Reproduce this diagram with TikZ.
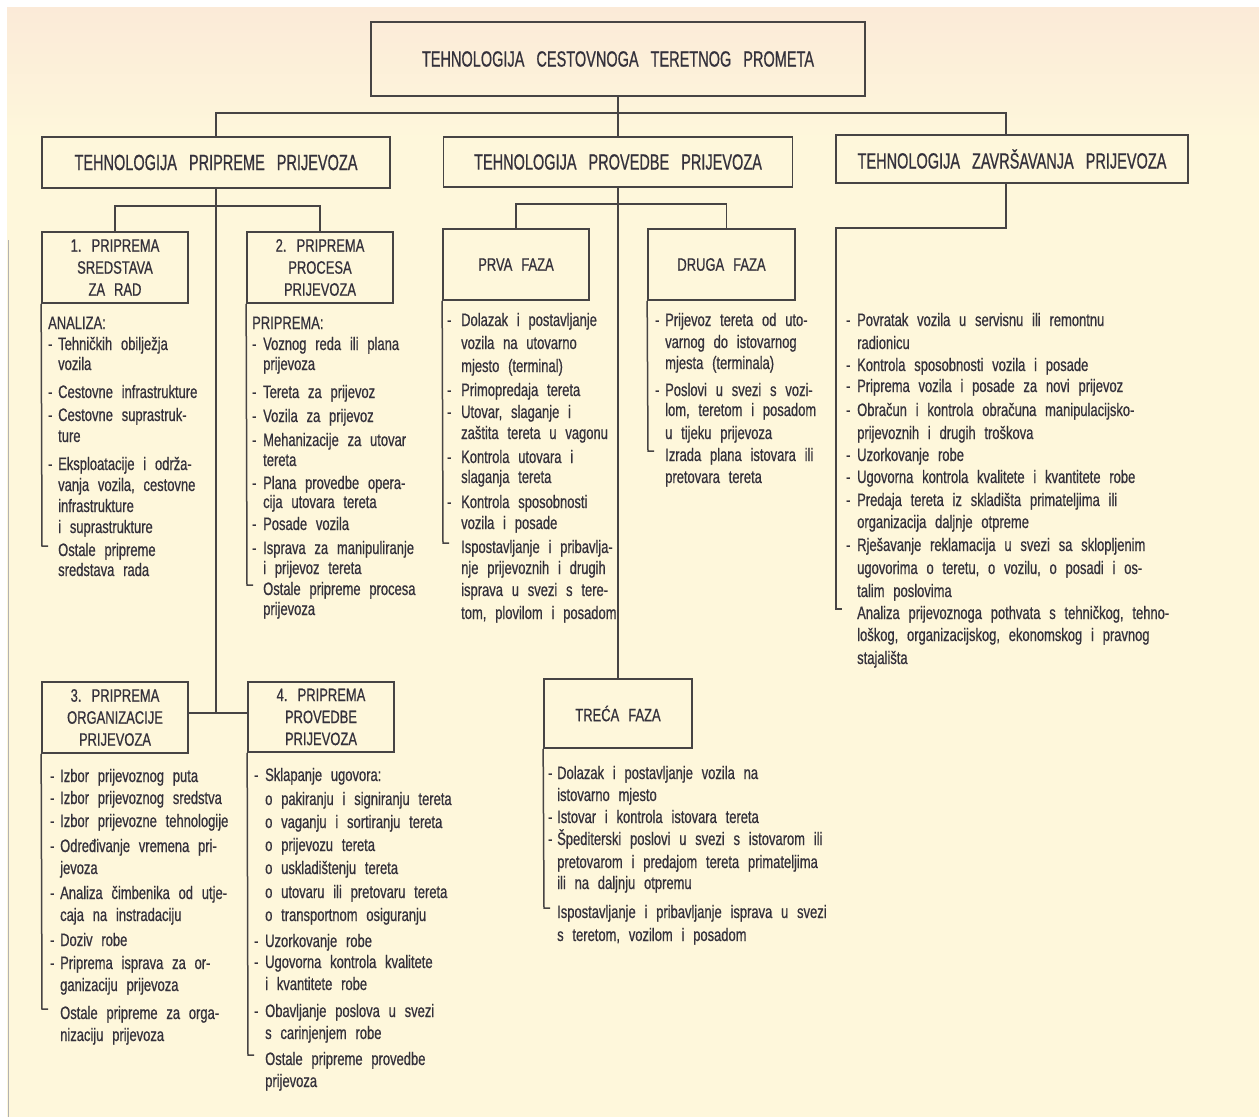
\documentclass[tikz,border=0pt]{standalone}
\usepackage{fontspec}
\setmainfont{Liberation Sans}[FakeStretch=0.72,FakeBold=0.6]
\newfontfamily\headfam{Liberation Sans}[FakeStretch=0.66,FakeBold=0.7]
\definecolor{bg}{HTML}{FEF7DB}
\definecolor{bgtop}{HTML}{FBEAD8}
\definecolor{ink}{HTML}{34313B}
\definecolor{linec}{HTML}{474444}
\newlength{\dw}
\newcommand{\dsh}{\makebox[\dw][l]{-}}
\newcommand{\ind}{\makebox[\dw]{}}
\newcommand{\bodyfont}{\fontsize{18pt}{22pt}\selectfont}
\newcommand{\headfont}{\headfam\fontsize{22pt}{24pt}\selectfont}
\newcommand{\listfont}{\fontsize{18pt}{20pt}\selectfont}
\begin{document}
\begin{tikzpicture}[x=1pt,y=-1pt,
  box/.style={draw=linec, line width=1.7pt, inner sep=0pt, align=center, text=ink,
     font=\bodyfont, execute at begin node={\spaceskip=9pt\relax}},
  head/.style={box, font=\headfont, execute at begin node={\spaceskip=12pt\relax}},
  conn/.style={draw=linec, line width=1.5pt},
  ln/.style={anchor=base west, inner sep=0pt, text=ink, yshift=-6pt,
     font=\listfont, execute at begin node={\spaceskip=8.8pt\relax}}]
\useasboundingbox (0,0) rectangle (1259,1117);
\fill[white] (0,0) rectangle (1259,1117);
\shade[top color=bgtop, bottom color=bg] (7,7) rectangle (1259,140);
\fill[bg] (7,140) rectangle (1259,1117);
\draw[gray!60, line width=1pt] (8,240) -- (8,1117);

% boxes
\node[head, minimum width=494pt, minimum height=74pt] (top) at (618,59) {TEHNOLOGIJA CESTOVNOGA TERETNOG PROMETA};
\node[head, minimum width=348pt, minimum height=51pt] (A) at (216,162.5) {TEHNOLOGIJA PRIPREME PRIJEVOZA};
\node[head, minimum width=349pt, minimum height=50pt] (B) at (618,162) {TEHNOLOGIJA PROVEDBE PRIJEVOZA};
\node[head, minimum width=352pt, minimum height=48pt] (C) at (1012,159) {TEHNOLOGIJA ZAVRŠAVANJA PRIJEVOZA};
\node[box, minimum width=146pt, minimum height=71pt] (b1) at (115,267.5) {1. PRIPREMA\\SREDSTAVA\\ZA RAD};
\node[box, minimum width=146pt, minimum height=71pt] (b2) at (320,267.5) {2. PRIPREMA\\PROCESA\\PRIJEVOZA};
\node[box, minimum width=146pt, minimum height=71pt] (prva) at (516,264.5) {PRVA FAZA};
\node[box, minimum width=147pt, minimum height=71pt] (druga) at (721.5,264.5) {DRUGA FAZA};
\node[box, minimum width=148pt, minimum height=69pt] (treca) at (618,713.5) {TREĆA FAZA};
\node[box, minimum width=146pt, minimum height=71pt] (b3) at (115,717.5) {3. PRIPREMA\\ORGANIZACIJE\\PRIJEVOZA};
\node[box, minimum width=146pt, minimum height=70pt] (b4) at (321,717) {4. PRIPREMA\\PROVEDBE\\PRIJEVOZA};

% connectors
\coordinate (bus) at (0,113);
\coordinate (jn) at (0,713);
\draw[conn] (top.south) -- (top.south |- bus);
\draw[conn] (A.north) |- ([xshift=-6pt]C.north |- bus) -- ([xshift=-6pt]C.north);
\draw[conn] (B.north) -- (B.north |- bus);
\draw[conn] (A.south) -- (A.south |- jn);
\draw[conn] (b3.east |- jn) -- (b4.west |- jn);
\draw[conn] (b1.north) -- ++(0,-25) -| (b2.north);
\draw[conn] (B.south) -- (treca.north);
\draw[conn] (prva.north) -- ++(0,-24) -| ([xshift=5pt]druga.north);
\coordinate (hC) at (836,609);
\draw[conn] ([xshift=-6pt]C.south) -- ++(0,44) -| (hC) -- ++(6,0);

% list lines with hooks
\coordinate (h1) at (42,546);
\coordinate (h2) at (247,585);
\coordinate (hp) at (443,543);
\coordinate (hd) at (648,451);
\coordinate (ht) at (544,908);
\coordinate (h3) at (42,1009);
\coordinate (h4) at (248,1055);
\draw[conn] (b1.south west) -- (h1) -- ++(6,0);
\draw[conn] (b2.south west) -- (h2) -- ++(6,0);
\draw[conn] (prva.south west) -- (hp) -- ++(6,0);
\draw[conn] (druga.south west) -- (hd) -- ++(6,0);
\draw[conn] (treca.south west) -- (ht) -- ++(6,0);
\draw[conn] (b3.south west) -- (h3) -- ++(6,0);
\draw[conn] (b4.south west) -- (h4) -- ++(6,0);

% list 1
\setlength{\dw}{10pt}
\foreach \y/\t [count=\i] in {323/{ANALIZA:},344/{\dsh Tehničkih obilježja},364/{\ind vozila},
  392/{\dsh Cestovne infrastrukture},415/{\dsh Cestovne suprastruk-},436/{\ind ture},
  464/{\dsh Eksploatacije i održa-},485/{\ind vanja vozila, cestovne},506/{\ind infrastrukture},
  527/{\ind i suprastrukture},550/{\ind Ostale pripreme},570/{\ind sredstava rada}}
  \node[ln] (la\i) at (48,\y) {\t};

% list 2
\setlength{\dw}{11pt}
\foreach \y/\t [count=\i] in {323/{PRIPREMA:},344/{\dsh Voznog reda ili plana},364/{\ind prijevoza},
  392/{\dsh Tereta za prijevoz},416/{\dsh Vozila za prijevoz},440/{\dsh Mehanizacije za utovar},
  460/{\ind tereta},483/{\dsh Plana provedbe opera-},502/{\ind cija utovara tereta},
  524/{\dsh Posade vozila},548/{\dsh Isprava za manipuliranje},568/{\ind i prijevoz tereta},
  589/{\ind Ostale pripreme procesa},609/{\ind prijevoza}}
  \node[ln] (lb\i) at (252,\y) {\t};

% prva faza
\setlength{\dw}{14pt}
\foreach \y/\t [count=\i] in {320/{\dsh Dolazak i postavljanje},343/{\ind vozila na utovarno},
  366/{\ind mjesto (terminal)},390/{\dsh Primopredaja tereta},412/{\dsh Utovar, slaganje i},
  433/{\ind zaštita tereta u vagonu},457/{\dsh Kontrola utovara i},477/{\ind slaganja tereta},
  502/{\dsh Kontrola sposobnosti},523/{\ind vozila i posade},547/{\ind Ispostavljanje i pribavlja-},
  568/{\ind nje prijevoznih i drugih},590/{\ind isprava u svezi s tere-},613/{\ind tom, plovilom i posadom}}
  \node[ln] (lp\i) at (447,\y) {\t};

% druga faza
\setlength{\dw}{10pt}
\foreach \y/\t [count=\i] in {320/{\dsh Prijevoz tereta od uto-},342/{\ind varnog do istovarnog},
  363/{\ind mjesta (terminala)},390/{\dsh Poslovi u svezi s vozi-},410/{\ind lom, teretom i posadom},
  433/{\ind u tijeku prijevoza},455/{\ind Izrada plana istovara ili},477/{\ind pretovara tereta}}
  \node[ln] (ld\i) at (655,\y) {\t};

% zavrsavanje
\setlength{\dw}{11pt}
\foreach \y/\t [count=\i] in {320/{\dsh Povratak vozila u servisnu ili remontnu},343/{\ind radionicu},
  365/{\dsh Kontrola sposobnosti vozila i posade},386/{\dsh Priprema vozila i posade za novi prijevoz},
  410/{\dsh Obračun i kontrola obračuna manipulacijsko-},433/{\ind prijevoznih i drugih troškova},
  455/{\dsh Uzorkovanje robe},477/{\dsh Ugovorna kontrola kvalitete i kvantitete robe},
  500/{\dsh Predaja tereta iz skladišta primateljima ili},522/{\ind organizacija daljnje otpreme},
  545/{\dsh Rješavanje reklamacija u svezi sa sklopljenim},568/{\ind ugovorima o teretu, o vozilu, o posadi i os-},
  591/{\ind talim poslovima},613/{\ind Analiza prijevoznoga pothvata s tehničkog, tehno-},
  635/{\ind loškog, organizacijskog, ekonomskog i pravnog},658/{\ind stajališta}}
  \node[ln] (lz\i) at (846,\y) {\t};

% list 3
\setlength{\dw}{10pt}
\foreach \y/\t [count=\i] in {776/{\dsh Izbor prijevoznog puta},798/{\dsh Izbor prijevoznog sredstva},
  821/{\dsh Izbor prijevozne tehnologije},846/{\dsh Određivanje vremena pri-},868/{\ind jevoza},
  893/{\dsh Analiza čimbenika od utje-},915/{\ind caja na instradaciju},940/{\dsh Doziv robe},
  963/{\dsh Priprema isprava za or-},985/{\ind ganizaciju prijevoza},1013/{\ind Ostale pripreme za orga-},
  1035/{\ind nizaciju prijevoza}}
  \node[ln] (lc\i) at (50,\y) {\t};

% list 4
\setlength{\dw}{11pt}
\foreach \y/\t [count=\i] in {775/{\dsh Sklapanje ugovora:},799/{\ind o pakiranju i signiranju tereta},
  822/{\ind o vaganju i sortiranju tereta},845/{\ind o prijevozu tereta},868/{\ind o uskladištenju tereta},
  892/{\ind o utovaru ili pretovaru tereta},915/{\ind o transportnom osiguranju},941/{\dsh Uzorkovanje robe},
  962/{\dsh Ugovorna kontrola kvalitete},984/{\ind i kvantitete robe},1011/{\dsh Obavljanje poslova u svezi},
  1033/{\ind s carinjenjem robe},1059/{\ind Ostale pripreme provedbe},1081/{\ind prijevoza}}
  \node[ln] (le\i) at (254,\y) {\t};

% treca faza
\setlength{\dw}{9pt}
\foreach \y/\t [count=\i] in {773/{\dsh Dolazak i postavljanje vozila na},795/{\ind istovarno mjesto},
  817/{\dsh Istovar i kontrola istovara tereta},839/{\dsh Špediterski poslovi u svezi s istovarom ili},
  862/{\ind pretovarom i predajom tereta primateljima},883/{\ind ili na daljnju otpremu},
  912/{\ind Ispostavljanje i pribavljanje isprava u svezi},935/{\ind s teretom, vozilom i posadom}}
  \node[ln] (lt\i) at (548,\y) {\t};
\end{tikzpicture}
\end{document}
